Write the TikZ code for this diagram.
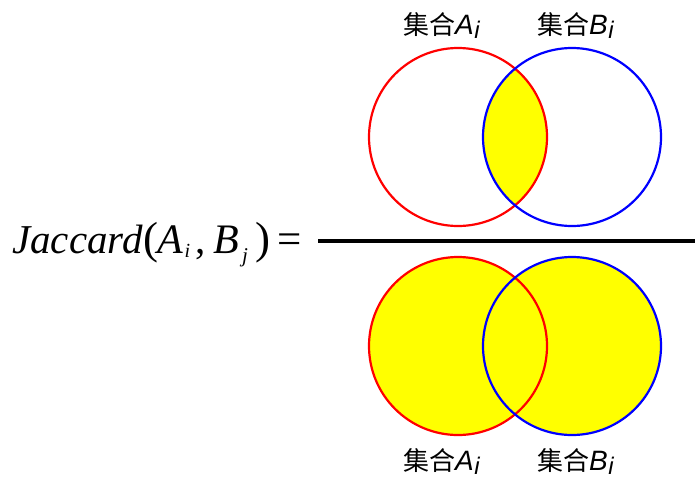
\documentclass[tikz,border=0pt]{standalone}
\usepackage{fontspec}
\setmainfont{Liberation Serif}
\setsansfont{Liberation Sans}
\newfontfamily\cjk{Noto Sans CJK SC}
\definecolor{yel}{RGB}{255,255,0}
\definecolor{pred}{RGB}{255,0,0}
\definecolor{pblue}{RGB}{0,0,255}
\newcommand{\subi}[1]{\hspace{0.5pt}\raisebox{-4pt}{\fontsize{24}{24}\selectfont\textit{#1}}}
\begin{document}
\begin{tikzpicture}[x=1pt,y=-1pt,
  redc/.style={draw=pred,line width=2.2pt},
  bluec/.style={draw=pblue,line width=2.2pt},
  lab/.style={font=\sffamily\fontsize{28}{30}\selectfont, inner sep=0pt, anchor=base west},
  eq/.style={font=\fontsize{41}{46}\selectfont, inner sep=0pt, anchor=base west}]
\useasboundingbox (0,0) rectangle (695,479);
\coordinate (rt) at (458,137);
\coordinate (bt) at (572,137);
\coordinate (rb) at (458,346);
\coordinate (bb) at (572,346);
% top: intersection
\begin{scope}
  \clip (rt) circle (89pt);
  \fill[yel] (bt) circle (89pt);
\end{scope}
\draw[redc] (rt) circle (89pt);
\draw[bluec] (bt) circle (89pt);
% bottom: union
\fill[yel] (rb) circle (89pt);
\fill[yel] (bb) circle (89pt);
\draw[redc] (rb) circle (89pt);
\draw[bluec] (bb) circle (89pt);
% fraction bar
\coordinate (f1) at (318,241);
\coordinate (f2) at (695,241);
\draw[line width=3.5pt] (f1) -- (f2);
% labels
\node[lab] (la) at (403,34) {{\cjk\fontsize{26}{30}\selectfont 集合}\textit{A}\subi{i}};
\node[lab] (lb) at (537,34) {{\cjk\fontsize{26}{30}\selectfont 集合}\textit{B}\subi{i}};
\node[lab] (la2) at (403,470) {{\cjk\fontsize{26}{30}\selectfont 集合}\textit{A}\subi{i}};
\node[lab] (lb2) at (537,470) {{\cjk\fontsize{26}{30}\selectfont 集合}\textit{B}\subi{i}};
% formula
\node[eq] (jac) at (12,253) {\textit{Jaccard}\hspace{1pt}{\fontsize{45}{46}\selectfont(}\hspace{-1pt}{\fontsize{42}{46}\selectfont\textit{A}}\hspace{1pt}\raisebox{-4pt}{\fontsize{20}{20}\selectfont\textit{i}}\hspace{5pt},\hspace{8pt}{\fontsize{42}{46}\selectfont\textit{B}}\hspace{3pt}\raisebox{-9pt}{\fontsize{21}{22}\selectfont\textit{j}}\hspace{8pt}{\fontsize{45}{46}\selectfont)}\hspace{7pt}{\fontsize{43}{46}\selectfont=}};
\end{tikzpicture}
\end{document}
